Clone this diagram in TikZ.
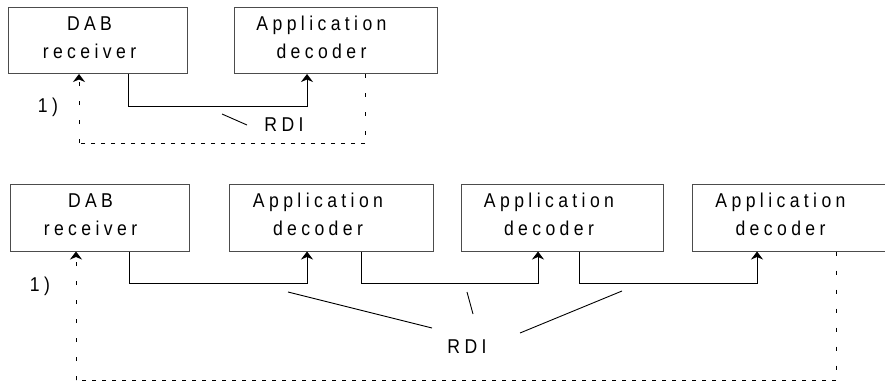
\documentclass[tikz,border=0pt]{standalone}
\usepackage{fontspec}
\setmainfont{Liberation Sans}[FakeStretch=0.88, LetterSpace=22]
\usetikzlibrary{arrows.meta}

\begin{document}
\begin{tikzpicture}[x=1pt, y=-1pt,
		txt/.style = {inner sep=0pt, align=center, font=\fontsize{20}{28}\selectfont},
		box/.style 2 args = {rectangle, draw=black!70, line width=1pt, inner sep=0pt,
			minimum height=66, label={[txt, xshift=#2, yshift=3]center:{#1}}},
		lbl/.style = {inner sep=0pt, font=\fontsize{20}{28}\selectfont},
		tip/.style = {-{Stealth[length=8pt, width=12pt, inset=2.5pt]}},
		r/.style   = {tip, line width=1pt},
		dh/.style  = {line width=1pt, dash pattern=on 4pt off 6pt},
		dv/.style  = {line width=1pt, dash pattern=on 4pt off 15pt},
		p/.style   = {line width=0.9pt}
		]
		\useasboundingbox (0,0) rectangle (885,383);
		
		%Nodes (one decoder)
		\node[box={DAB\\receiver}{-8}, minimum width=179]	(rx1)	at	(97.5, 40.5)	{};
		\node[box={Application\\decoder}{-14}, minimum width=203]	(ad1)	at	(335.5, 40.5)	{};
		\node[lbl]	(n1)	at	(48, 107)	{1)};
		\node[lbl]	(rdi1)	at	(284, 125)	{RDI};
		
		%Nodes (chain of decoders)
		\node[box={DAB\\receiver}{-9}, minimum width=179, minimum height=67]	(rx2)	at	(99.5, 217.5)	{};
		\node[box={Application\\decoder}{-13}, minimum width=204, minimum height=67]	(ad2)	at	(331, 217.5)	{};
		\node[box={Application\\decoder}{-13}, minimum width=202, minimum height=67]	(ad3)	at	(562, 217.5)	{};
		\node[box={Application\\decoder}{-13}, minimum width=203, minimum height=67]	(ad4)	at	(793.5, 217.5)	{};
		\node[lbl]	(n2)	at	(40, 286)	{1)};
		\node[lbl]	(rdi2)	at	(467, 347)	{RDI};
		
		%Lines (one decoder)
		\draw[r]	([xshift=30.5]rx1.south) -- ++(0,32) -| ([xshift=-28.5]ad1.south);
		\coordinate (t1) at (222, 114);
		\coordinate (u1) at (247, 125);
		\draw[p]	(t1) -- (u1);
		\coordinate (e1) at (365, 143);
		\coordinate (e2) at (79, 143);
		\draw[dv]	([xshift=29.5]ad1.south) -- (e1);
		\draw[dh]	(e1) -- (e2);
		\draw[dv, tip]	(e2) -- ([xshift=-18.5]rx1.south);
		
		%Lines (chain of decoders)
		\draw[r]	([xshift=29.5]rx2.south) -- ++(0,32) -| ([xshift=-24]ad2.south);
		\draw[r]	([xshift=30]ad2.south) -- ++(0,32) -| ([xshift=-24]ad3.south);
		\draw[r]	([xshift=17]ad3.south) -- ++(0,32) -| ([xshift=-36.5]ad4.south);
		\coordinate (t2) at (288, 292);
		\coordinate (u2) at (432, 328);
		\coordinate (t3) at (467, 292);
		\coordinate (u3) at (473, 314);
		\coordinate (t4) at (622, 291);
		\coordinate (u4) at (520, 333);
		\draw[p]	(t2) -- (u2);
		\draw[p]	(t3) -- (u3);
		\draw[p]	(t4) -- (u4);
		\coordinate (f1) at (836, 380);
		\coordinate (f2) at (76, 380);
		\draw[dv]	([xshift=42.5]ad4.south) -- (f1);
		\draw[dh]	(f1) -- (f2);
		\draw[dv, tip]	(f2) -- ([xshift=-23.5]rx2.south);
\end{tikzpicture}
\end{document}
